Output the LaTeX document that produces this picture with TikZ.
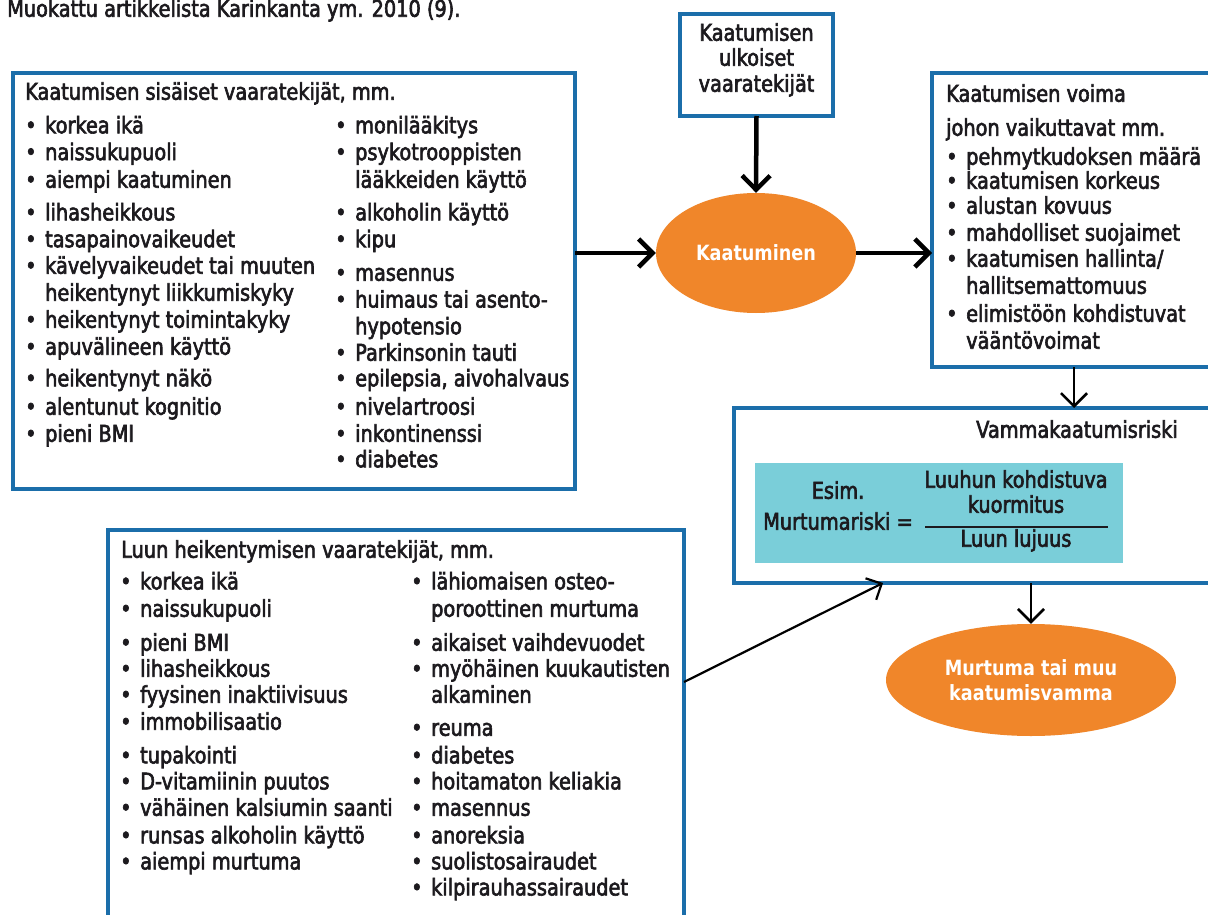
\documentclass[tikz,border=0pt]{standalone}
\usepackage{fontspec}
\setmainfont{DejaVu Sans}[FakeStretch=0.84]
\newfontfamily\bodyfont{DejaVu Sans}[FakeStretch=0.84,FakeBold=2.6]
\usetikzlibrary{arrows.meta,shapes.geometric}
\definecolor{bbord}{RGB}{27,110,170}
\definecolor{oran}{RGB}{240,134,42}
\definecolor{cyanf}{RGB}{122,206,217}
\definecolor{ink}{RGB}{28,26,30}
\newcommand{\bodyfs}{\bodyfont\fontsize{23}{26}\selectfont}
\newcommand{\ellfs}{\fontsize{21}{25}\selectfont\bfseries}
\newcommand{\itembul}{\makebox[20pt][l]{\textbullet}}
\begin{document}
\begin{tikzpicture}[x=1pt,y=-1pt,
  box/.style={draw=bbord, line width=4pt, fill=white, inner sep=0pt, outer sep=0pt, anchor=north west},
  txt/.style={anchor=mid west, inner sep=0pt, font=\bodyfs, text=ink},
  ctxt/.style={anchor=mid, inner sep=0pt, font=\bodyfs, text=ink},
  ell/.style={ellipse, fill=oran, draw=none, inner sep=0pt, font=\ellfs, text=white, align=center},
  bigarrow/.style={line width=4.5pt, draw=black, -{Straight Barb[length=14pt,width=28pt]}},
  thinarrow/.style={line width=2.6pt, draw=black, -{Straight Barb[length=13pt,width=26pt]}},
  diagarrow/.style={line width=2.2pt, draw=black, -{Straight Barb[length=12pt,width=24pt]}}
]
\useasboundingbox (0,0) rectangle (1208,915);
\fill[white] (0,0) rectangle (1208,915);
\clip (0,0) rectangle (1208,915);

% header
\node[txt] (hdr) at (7,14) {Muokattu artikkelista Karinkanta ym. 2010 (9).};

% boxes
\node[box, minimum width=562pt, minimum height=416pt] (sis) at (13,73) {};
\node[box, minimum width=153pt, minimum height=102pt] (ulk) at (680,14) {};
\node[box, minimum width=290pt, minimum height=294pt] (voima) at (932,73) {};
\node[box, minimum width=490pt, minimum height=175pt] (vamma) at (734,408) {};
\node[fill=cyanf, draw=none, inner sep=0pt, outer sep=0pt, anchor=north west,
      minimum width=368pt, minimum height=100pt] (kaava) at (755,463) {};
\node[box, minimum width=576pt, minimum height=400pt] (luu) at (108,530) {};

% ellipses
\node[ell, minimum width=200pt, minimum height=120pt] (kaat) at (756,253) {Kaatuminen};
\node[ell, minimum width=290pt, minimum height=112pt] (murt) at (1031,680)
  {Murtuma tai muu\\kaatumisvamma};

% box 1 text
\node[txt] (sisT) at (25,97) {Kaatumisen sisäiset vaaratekijät, mm.};
\foreach \xx/\yy/\tx [count=\i] in {
  25/130.6/{\itembul korkea ikä},
  25/157.4/{\itembul naissukupuoli},
  25/185/{\itembul aiempi kaatuminen},
  25/217.7/{\itembul lihasheikkous},
  25/244.5/{\itembul tasapainovaikeudet},
  25/271/{\itembul kävelyvaikeudet tai muuten},
  45/298/{heikentynyt liikkumiskyky},
  25/325/{\itembul heikentynyt toimintakyky},
  25/352/{\itembul apuvälineen käyttö},
  25/383.6/{\itembul heikentynyt näkö},
  25/412/{\itembul alentunut kognitio},
  25/439/{\itembul pieni BMI}}
  \node[txt] (sa\i) at (\xx,\yy) {\tx};
\foreach \xx/\yy/\tx [count=\i] in {
  335/130.6/{\itembul monilääkitys},
  335/157.4/{\itembul psykotrooppisten},
  355/185/{lääkkeiden käyttö},
  335/217.7/{\itembul alkoholin käyttö},
  335/244.5/{\itembul kipu},
  335/278/{\itembul masennus},
  335/304.8/{\itembul huimaus tai asento-},
  355/331.6/{hypotensio},
  335/358/{\itembul Parkinsonin tauti},
  335/383.6/{\itembul epilepsia, aivohalvaus},
  335/412/{\itembul nivelartroosi},
  335/439/{\itembul inkontinenssi},
  335/464.6/{\itembul diabetes}}
  \node[txt] (sb\i) at (\xx,\yy) {\tx};

% box 2 text
\node[ctxt] (ulk1) at (756.5,38) {Kaatumisen};
\node[ctxt] (ulk2) at (756.5,63) {ulkoiset};
\node[ctxt] (ulk3) at (756.5,89) {vaaratekijät};

% box 3 text
\node[txt] (voT1) at (946,99) {Kaatumisen voima};
\node[txt] (voT2) at (946,133) {johon vaikuttavat mm.};
\foreach \xx/\yy/\tx [count=\i] in {
  946/162/{\itembul pehmytkudoksen määrä},
  946/186/{\itembul kaatumisen korkeus},
  946/211/{\itembul alustan kovuus},
  946/238/{\itembul mahdolliset suojaimet},
  946/264/{\itembul kaatumisen hallinta/},
  966/291/{hallitsemattomuus},
  946/319/{\itembul elimistöön kohdistuvat},
  966/346/{vääntövoimat}}
  \node[txt] (vo\i) at (\xx,\yy) {\tx};

% box 4 text
\node[txt] (vaT) at (976,435) {Vammakaatumisriski};
\node[ctxt] (esim) at (838,496) {Esim.};
\node[txt] (mrisk) at (763,527) {Murtumariski =};
\node[ctxt] (osoit1) at (1016,485) {Luuhun kohdistuva};
\node[ctxt] (osoit2) at (1016,510) {kuormitus};
\node[ctxt] (nimit) at (1016,544) {Luun lujuus};
\coordinate (fracL) at (925,527);
\coordinate (fracR) at (1108,527);
\draw[line width=1.8pt, ink] (fracL) -- (fracR);

% box 5 text
\node[txt] (luT) at (121,555) {Luun heikentymisen vaaratekijät, mm.};
\foreach \xx/\yy/\tx [count=\i] in {
  120/586.7/{\itembul korkea ikä},
  120/614/{\itembul naissukupuoli},
  120/648/{\itembul pieni BMI},
  120/674/{\itembul lihasheikkous},
  120/700/{\itembul fyysinen inaktiivisuus},
  120/727/{\itembul immobilisaatio},
  120/760.7/{\itembul tupakointi},
  120/786.7/{\itembul D-vitamiinin puutos},
  120/813/{\itembul vähäinen kalsiumin saanti},
  120/840.7/{\itembul runsas alkoholin käyttö},
  120/866.7/{\itembul aiempi murtuma}}
  \node[txt] (la\i) at (\xx,\yy) {\tx};
\foreach \xx/\yy/\tx [count=\i] in {
  411/586.7/{\itembul lähiomaisen osteo-},
  431/614/{poroottinen murtuma},
  411/648/{\itembul aikaiset vaihdevuodet},
  411/674/{\itembul myöhäinen kuukautisten},
  431/700/{alkaminen},
  411/733/{\itembul reuma},
  411/760.7/{\itembul diabetes},
  411/786.7/{\itembul hoitamaton keliakia},
  411/813/{\itembul masennus},
  411/840.7/{\itembul anoreksia},
  411/866.7/{\itembul suolistosairaudet},
  411/892.7/{\itembul kilpirauhassairaudet}}
  \node[txt] (lb\i) at (\xx,\yy) {\tx};

% connectors
\draw[bigarrow] (sis.east |- kaat.west) -- (kaat.west);
\draw[bigarrow] (ulk.south) -- (kaat.north);
\draw[bigarrow] (kaat.east) -- (kaat.east -| voima.west);
\coordinate (v1) at ([xshift=142pt]voima.south west);
\draw[thinarrow] (v1) -- (v1 |- vamma.north);
\draw[thinarrow] (murt.north |- vamma.south) -- (murt.north);
\coordinate (d1) at ([yshift=-152pt]luu.north east);
\coordinate (d2) at ([xshift=149pt]vamma.south west);
\draw[diagarrow] (d1) -- (d2);
\end{tikzpicture}
\end{document}
